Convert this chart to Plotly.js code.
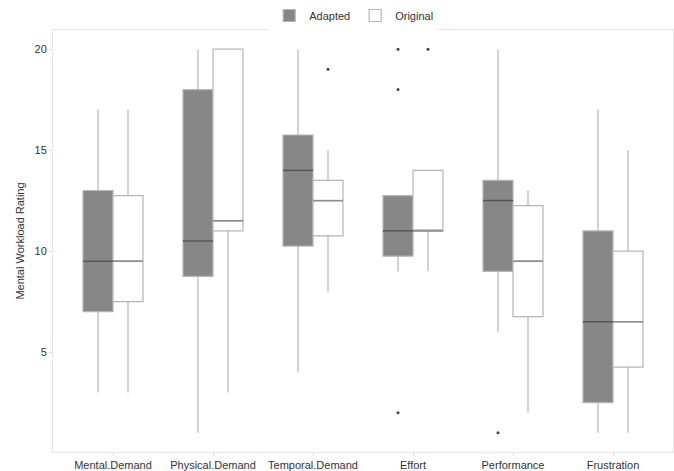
<!DOCTYPE html>
<html>
<head>
<meta charset="utf-8">
<script src="https://cdn.plot.ly/plotly-3.0.1.min.js"></script>
<style>html,body{margin:0;padding:0;background:#fff;}#chart{width:674px;height:471px;}</style>
</head>
<body>
<div id="chart"></div>
<script>
var categories = ["Mental.Demand", "Physical.Demand", "Temporal.Demand", "Effort", "Performance", "Frustration"];

// Adapted
var adaptedLower  = [3, 1, 4, 9, 6, 1];
var adaptedQ1     = [7, 8.75, 10.25, 9.75, 9, 2.5];
var adaptedMedian = [9.5, 10.5, 14, 11, 12.5, 6.5];
var adaptedQ3     = [13, 18, 15.75, 12.75, 13.5, 11];
var adaptedUpper  = [17, 20, 20, 12.75, 20, 17];
var adaptedOutliers = [[], [], [], [20, 18, 2], [1], []];

// Original
var originalLower  = [3, 3, 8, 9, 2, 1];
var originalQ1     = [7.5, 11, 10.75, 11, 6.75, 4.25];
var originalMedian = [9.5, 11.5, 12.5, 11, 9.5, 6.5];
var originalQ3     = [12.75, 20, 13.5, 14, 12.25, 10];
var originalUpper  = [17, 20, 15, 14, 13, 15];
var originalOutliers = [[], [], [19], [20], [], []];

var idx = categories.map(function(c, i){ return i; });
var off = 0.15, bw = 0.3;

function medianLine(med, shift){
  var xs = [], ys = [];
  med.forEach(function(m, i){
    xs.push(i + shift - bw/2, i + shift + bw/2, null);
    ys.push(m, m, null);
  });
  return {xs: xs, ys: ys};
}
function outlierPts(out, shift){
  var xs = [], ys = [];
  out.forEach(function(arr, i){ arr.forEach(function(v){ xs.push(i + shift); ys.push(v); }); });
  return {xs: xs, ys: ys};
}

var mA = medianLine(adaptedMedian, -off), mO = medianLine(originalMedian, off);
var oA = outlierPts(adaptedOutliers, -off), oO = outlierPts(originalOutliers, off);

var traces = [
  {type: 'box', name: 'Adapted', x: idx.map(function(i){return i - off;}),
   q1: adaptedQ1, median: adaptedMedian, q3: adaptedQ3, lowerfence: adaptedLower, upperfence: adaptedUpper,
   width: bw, fillcolor: '#878787', line: {color: '#b5b5b5', width: 1.2}, boxpoints: false, whiskerwidth: 0, hoverinfo: 'skip'},
  {type: 'box', name: 'Original', x: idx.map(function(i){return i + off;}),
   q1: originalQ1, median: originalMedian, q3: originalQ3, lowerfence: originalLower, upperfence: originalUpper,
   width: bw, fillcolor: '#ffffff', line: {color: '#b5b5b5', width: 1.2}, boxpoints: false, whiskerwidth: 0, hoverinfo: 'skip'},
  {type: 'scatter', mode: 'lines', x: mA.xs, y: mA.ys, line: {color: '#555555', width: 1.6}, showlegend: false, hoverinfo: 'skip'},
  {type: 'scatter', mode: 'lines', x: mO.xs, y: mO.ys, line: {color: '#8c8c8c', width: 1.6}, showlegend: false, hoverinfo: 'skip'},
  {type: 'scatter', mode: 'markers', x: oA.xs.concat(oO.xs), y: oA.ys.concat(oO.ys),
   marker: {color: '#444444', size: 3}, showlegend: false, hoverinfo: 'skip'}
];

var layout = {
  width: 674, height: 471,
  margin: {l: 53, r: 1, t: 25, b: 19},
  paper_bgcolor: '#ffffff', plot_bgcolor: '#ffffff',
  font: {family: 'Liberation Sans, Arial, sans-serif', size: 11, color: '#333333'},
  showlegend: true,
  legend: {orientation: 'h', x: 0.485, xanchor: 'center', y: 1.0, yanchor: 'bottom',
           font: {size: 11, color: '#333333'}, itemwidth: 30, tracegroupgap: 0},
  boxmode: 'overlay',
  xaxis: {range: [-0.6, 5.6], tickmode: 'array', tickvals: idx, ticktext: categories,
          showgrid: false, zeroline: false, showline: true, mirror: true, linecolor: '#e6e6e6', linewidth: 1,
          ticks: 'outside', ticklen: 3, tickcolor: '#dddddd', tickfont: {size: 11, color: '#333333'}},
  yaxis: {range: [0.05, 20.95], tickvals: [5, 10, 15, 20], showgrid: false, zeroline: false,
          showline: true, mirror: true, linecolor: '#e6e6e6', linewidth: 1,
          ticks: 'outside', ticklen: 3, tickcolor: '#dddddd', tickfont: {size: 11, color: '#333333'},
          title: {text: 'Mental Workload Rating', font: {size: 11, color: '#333333'}, standoff: 7}}
};

Plotly.newPlot('chart', traces, layout, {displayModeBar: false, staticPlot: true});
</script>
</body>
</html>
